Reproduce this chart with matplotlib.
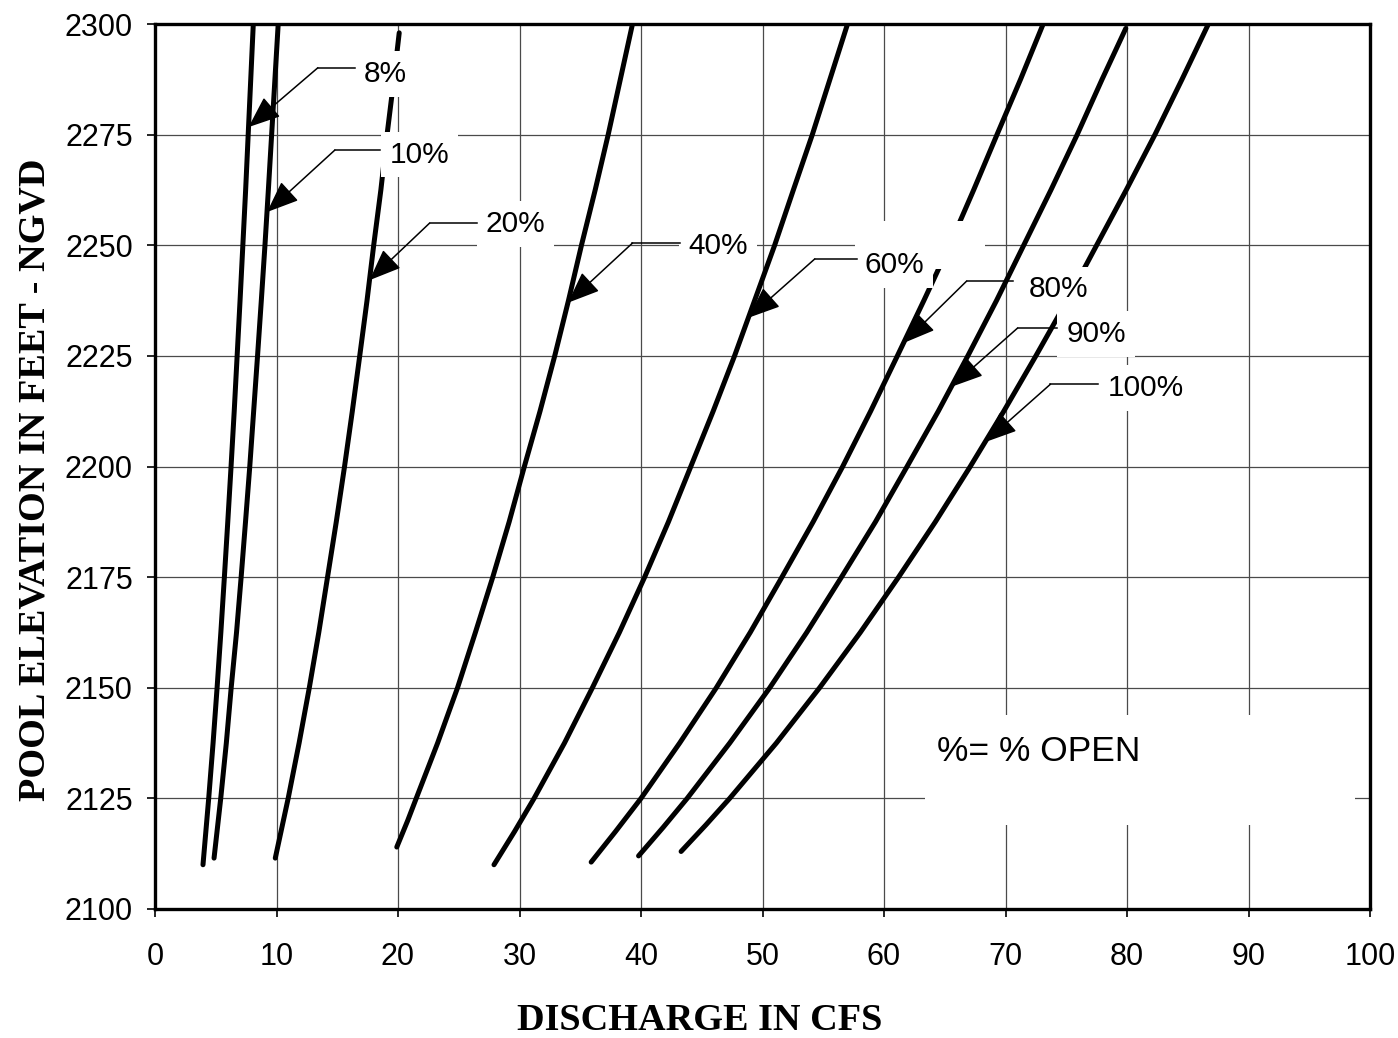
import numpy as np
import matplotlib
matplotlib.use("Agg")
import matplotlib.pyplot as plt
from matplotlib.patches import Rectangle

# Gate-opening rating curves: pool elevation (ft) vs discharge (cfs)
labels = ["8%", "10%", "20%", "40%", "60%", "80%", "90%", "100%"]

elev_8 = [2110, 2125, 2137.5, 2150, 2162.5, 2175, 2187.5, 2200, 2212.5,
          2225, 2237.5, 2250, 2262.5, 2275, 2287.5, 2300]
q_8 = [3.95, 4.42, 4.78, 5.11, 5.42, 5.71, 5.99, 6.26, 6.52,
       6.76, 7.00, 7.23, 7.46, 7.67, 7.88, 8.09]

elev_10 = [2111.5, 2125, 2137.5, 2150, 2162.5, 2175, 2187.5, 2200, 2212.5,
           2225, 2237.5, 2250, 2262.5, 2275, 2287.5, 2300]
q_10 = [4.86, 5.41, 5.87, 6.27, 6.71, 7.09, 7.45, 7.80, 8.12,
        8.44, 8.75, 9.05, 9.33, 9.60, 9.87, 10.14]

elev_20 = [2111.5, 2125, 2137.5, 2150, 2162.5, 2175, 2187.5, 2200, 2212.5,
           2225, 2237.5, 2250, 2262.5, 2275, 2287.5, 2298]
q_20 = [9.9, 10.96, 11.86, 12.7, 13.48, 14.2, 14.92, 15.6, 16.24,
        16.85, 17.45, 18.0, 18.59, 19.1, 19.66, 20.1]

elev_40 = [2114, 2120, 2125, 2137.5, 2150, 2162.5, 2175, 2187.5, 2200, 2212.5,
           2225, 2237.5, 2250, 2262.5, 2275, 2287.5, 2300]
q_40 = [19.9, 20.8, 21.5, 23.26, 24.9, 26.37, 27.8, 29.15, 30.4, 31.69,
        32.9, 34.03, 35.1, 36.23, 37.3, 38.3, 39.3]

elev_60 = [2110, 2117.5, 2125, 2137.5, 2150, 2162.5, 2175, 2187.5, 2200, 2212.5,
           2225, 2237.5, 2250, 2262.5, 2275, 2287.5, 2300]
q_60 = [27.9, 29.59, 31.2, 33.7, 36.0, 38.22, 40.3, 42.26, 44.1, 45.94,
        47.7, 49.35, 51.0, 52.54, 54.1, 55.55, 57.0]

elev_80 = [2110.6, 2117.5, 2125, 2137.5, 2150, 2162.5, 2175, 2187.5, 2200, 2212.5,
           2225, 2237.5, 2250, 2262.5, 2275, 2287.5, 2300]
q_80 = [35.9, 37.9, 40.0, 43.18, 46.2, 48.99, 51.6, 54.17, 56.6, 58.9,
        61.1, 63.28, 65.4, 67.38, 69.3, 71.24, 73.1]

elev_90 = [2112, 2118.5, 2125, 2137.5, 2150, 2162.5, 2175, 2187.5, 2200, 2212.5,
           2225, 2237.5, 2250, 2262.5, 2275, 2287.5, 2299]
q_90 = [39.8, 41.84, 43.8, 47.3, 50.6, 53.64, 56.5, 59.3, 61.9, 64.47,
        66.9, 69.26, 71.5, 73.74, 75.9, 77.95, 79.9]

elev_100 = [2113, 2119, 2125, 2137.5, 2150, 2162.5, 2175, 2187.5, 2200, 2212.5,
            2225, 2237.5, 2250, 2262.5, 2275, 2287.5, 2300]
q_100 = [43.3, 45.34, 47.3, 51.14, 54.7, 58.05, 61.2, 64.23, 67.1, 69.86,
         72.5, 75.07, 77.5, 79.94, 82.3, 84.53, 86.7]

x_ticks = [0, 10, 20, 30, 40, 50, 60, 70, 80, 90, 100]
y_ticks = [2100, 2125, 2150, 2175, 2200, 2225, 2250, 2275, 2300]

curves = [(elev_8, q_8), (elev_10, q_10), (elev_20, q_20), (elev_40, q_40),
          (elev_60, q_60), (elev_80, q_80), (elev_90, q_90), (elev_100, q_100)]

# Callout layout: arrow-tip elevation on the curve, elbow of the leader,
# end of the horizontal stroke, and the label's left edge / vertical centre
tip_elev = [2276.7, 2257.5, 2242.1, 2237.0, 2233.6, 2227.9, 2218.0, 2205.5]
elbow_xy = [(13.4, 2290.1), (14.8, 2271.5), (22.6, 2255.0), (39.3, 2250.5),
            (54.3, 2246.9), (66.8, 2241.9), (71.0, 2231.3), (73.7, 2218.6)]
stroke_end = [16.5, 18.5, 26.5, 43.2, 57.8, 70.6, 74.2, 77.6]
text_xy = [(17.2, 2289.2), (19.3, 2271.1), (27.2, 2255.3), (43.9, 2250.5),
           (58.4, 2246.2), (71.9, 2240.6), (75.0, 2230.6), (78.4, 2218.4)]

sans = "Liberation Sans"
serif = "Liberation Serif"

fig = plt.figure(figsize=(13.98, 10.38), dpi=100)
ax = fig.add_axes([155 / 1398, 1 - 909 / 1038, (1370 - 155) / 1398, (909 - 24) / 1038])

ax.set_xlim(0, 100)
ax.set_ylim(2100, 2300)
ax.set_xticks(x_ticks)
ax.set_yticks(y_ticks)
ax.set_axisbelow(True)
ax.grid(True, color="#4a4a4a", linewidth=0.9)

for spine in ax.spines.values():
    spine.set_linewidth(2.4)
    spine.set_color("black")
    spine.set_zorder(6)

ax.tick_params(axis="both", direction="out", length=6, width=1.2,
               labelsize=22, colors="black")
ax.tick_params(axis="y", pad=10)
ax.tick_params(axis="x", pad=18)
for lab in ax.get_xticklabels() + ax.get_yticklabels():
    lab.set_fontfamily(sans)

# rating curves
for elev, q in curves:
    ax.plot(q, elev, color="black", linewidth=3.6, solid_capstyle="round",
            solid_joinstyle="round", zorder=3, clip_on=True)

# callouts with white-backed labels
for i, lab in enumerate(labels):
    elev, q = curves[i]
    tip = (np.interp(tip_elev[i], elev, q), tip_elev[i])
    ex, ey = elbow_xy[i]
    ax.plot([ex, stroke_end[i]], [ey, ey], color="black", linewidth=1.1, zorder=5)
    ax.annotate("", xy=tip, xytext=(ex, ey), zorder=5,
                arrowprops=dict(arrowstyle="-|>,head_length=2.0,head_width=0.8",
                                color="black", lw=1.1, shrinkA=0, shrinkB=0))
    tx, ty = text_xy[i]
    ax.text(tx, ty - 2.4, lab, ha="left", va="baseline", fontsize=21.5,
            family=sans, zorder=4,
            bbox=dict(facecolor="white", edgecolor="none", boxstyle="square,pad=0.3"))

# wider blank behind the 60% label
ax.add_patch(Rectangle((57.6, 2244.6), 10.7, 10.9, facecolor="white",
                       edgecolor="none", zorder=3.5))

# legend note box
ax.add_patch(Rectangle((63.4, 2119.0), 35.4, 24.8, facecolor="white",
                       edgecolor="none", zorder=3.5))
ax.text(72.7, 2135.5, "%= % OPEN", ha="center", va="center", fontsize=25.5,
        family=sans, zorder=4)

fig.text(700 / 1398, 1 - 1020 / 1038, "DISCHARGE IN CFS", ha="center", va="center",
         fontsize=27.5, family=serif, weight="bold")
fig.text(35 / 1398, 1 - 480 / 1038, "POOL ELEVATION IN FEET - NGVD", ha="center",
         va="center", rotation=90, fontsize=27.5, family=serif, weight="bold")

fig.savefig("out.png", dpi=100, facecolor="white")
